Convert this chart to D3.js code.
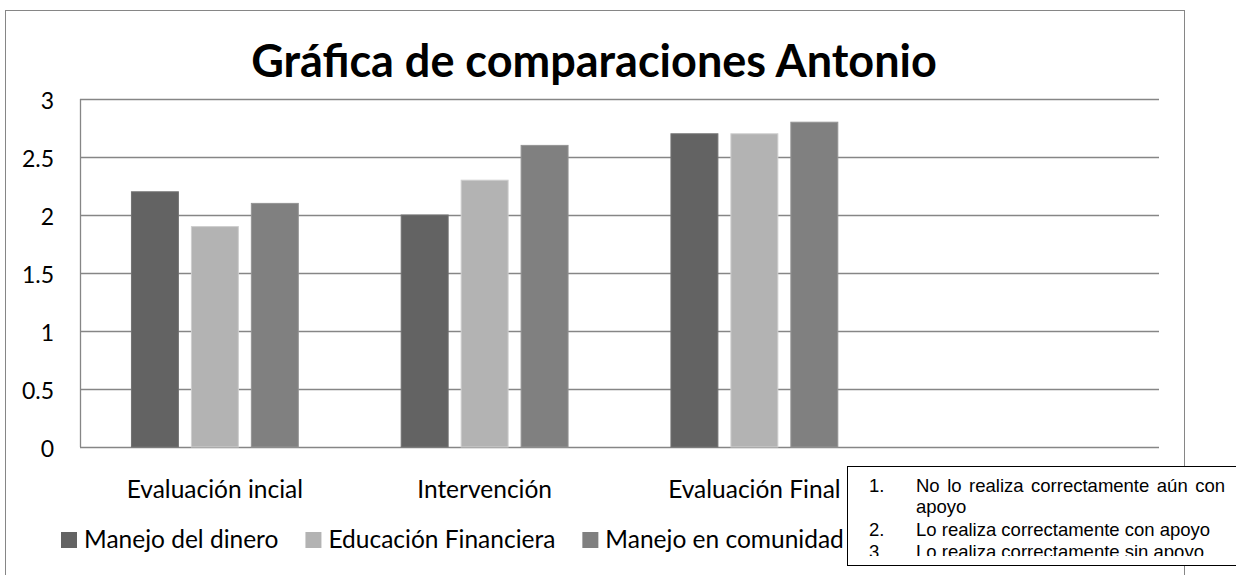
<!DOCTYPE html>
<html>
<head>
<meta charset="utf-8">
<script src="https://cdn.jsdelivr.net/npm/d3@7"></script>
<style>
  body { margin: 0; background: #fff; }
  text { font-family: Lato, "Open Sans", sans-serif; fill: #000; }
  .note text { font-family: "Liberation Sans", Arial, sans-serif; }
</style>
</head>
<body>
<svg id="chart" width="1236" height="575"></svg>
<script>
    //////////// DATA ////////////

    var categories = ["Evaluación incial", "Intervención", "Evaluación Final", ""];
    var seriesNames = ["Manejo del dinero", "Educación Financiera", "Manejo en comunidad"];
    var manejoDinero = [2.2, 2.0, 2.7, null];
    var educacionFinanciera = [1.9, 2.3, 2.7, null];
    var manejoComunidad = [2.1, 2.6, 2.8, null];
    var yTicks = [0, 0.5, 1, 1.5, 2, 2.5, 3];
    var noteNumbers = ["1.", "2.", "3."];
    var noteTexts = ["No lo realiza correctamente aún con apoyo",
                     "Lo realiza correctamente con apoyo",
                     "Lo realiza correctamente sin apoyo"];
    var titleText = "Gráfica de comparaciones Antonio";

    var seriesValues = [manejoDinero, educacionFinanciera, manejoComunidad];
    var colors = ["#636363", "#b3b3b3", "#808080"];
    var gridColor = "#868686";

    //////////// SCALES ////////////

    var svg = d3.select("#chart");
    var plot = { left: 80, right: 1159, top: 99, bottom: 447 };

    var x0 = d3.scaleBand()
        .domain(categories.map(function (d, i) { return i; }))
        .range([plot.left, plot.right]);

    var x1 = d3.scaleBand()
        .domain(seriesNames)
        .range([0, x0.bandwidth()])
        .paddingInner(0.217)
        .paddingOuter(0.858);

    var y = d3.scaleLinear().domain([0, 3]).range([plot.bottom, plot.top]);

    // outer chart border
    svg.append("rect")
        .attr("x", 5.5).attr("y", 10.5)
        .attr("width", 1179).attr("height", 620)
        .attr("fill", "#fff")
        .attr("stroke", gridColor);

    // title
    svg.append("text")
        .attr("x", 594).attr("y", 77)
        .attr("text-anchor", "middle")
        .style("font-weight", "bold")
        .style("font-size", "45px")
        .text(titleText);

    // gridlines
    svg.append("g")
        .selectAll("line")
        .data(yTicks)
        .enter().append("line")
        .attr("x1", plot.left).attr("x2", plot.right)
        .attr("y1", function (d) { return Math.round(y(d)) + 0.5; })
        .attr("y2", function (d) { return Math.round(y(d)) + 0.5; })
        .attr("stroke", gridColor)
        .attr("stroke-width", 1.3);

    // vertical axis line
    svg.append("line")
        .attr("x1", plot.left + 0.5).attr("x2", plot.left + 0.5)
        .attr("y1", plot.top).attr("y2", plot.bottom)
        .attr("stroke", gridColor)
        .attr("stroke-width", 1.3);

    // y tick labels
    svg.append("g")
        .selectAll("text")
        .data(yTicks)
        .enter().append("text")
        .attr("x", 54)
        .attr("y", function (d) { return y(d); })
        .attr("dy", "0.45em")
        .attr("text-anchor", "end")
        .style("font-size", "23px")
        .text(function (d) { return d; });

    // bars
    var groups = svg.append("g")
        .selectAll("g")
        .data(seriesValues)
        .enter().append("g")
        .attr("fill", function (d, i) { return colors[i]; });

    groups.each(function (vals, si) {
        d3.select(this).selectAll("rect")
            .data(vals.map(function (v, ci) { return { v: v, ci: ci }; })
                .filter(function (d) { return d.v !== null; }))
            .enter().append("rect")
            .attr("x", function (d) { return x0(d.ci) + x1(seriesNames[si]); })
            .attr("width", x1.bandwidth())
            .attr("y", function (d) { return y(d.v); })
            .attr("height", function (d) { return y(0) - y(d.v); })
            .attr("stroke", d3.color(colors[si]).brighter(0.4))
            .attr("stroke-width", 1);
    });

    // category labels
    svg.append("g")
        .selectAll("text")
        .data(categories)
        .enter().append("text")
        .attr("x", function (d, i) { return x0(i) + x0.bandwidth() / 2; })
        .attr("y", 498)
        .attr("text-anchor", "middle")
        .style("font-size", "24.5px")
        .text(function (d) { return d; });

    // legend (items laid out one after another)
    var legend = svg.append("g");
    var lx = 61;
    seriesNames.forEach(function (name, i) {
        legend.append("rect")
            .attr("x", lx).attr("y", 532)
            .attr("width", 16).attr("height", 16)
            .attr("fill", colors[i]);
        var t = legend.append("text")
            .attr("x", lx + 23).attr("y", 548)
            .style("font-size", "24.5px")
            .text(name);
        lx += 23 + t.node().getComputedTextLength() + 27;
    });

    //////////// NOTE BOX ////////////

    var note = svg.append("g").attr("class", "note");
    svg.append("defs").append("clipPath").attr("id", "noteClip")
        .append("rect")
        .attr("x", 848).attr("y", 467)
        .attr("width", 400).attr("height", 89);

    note.append("rect")
        .attr("x", 847.5).attr("y", 466.5)
        .attr("width", 400).attr("height", 99)
        .attr("fill", "#fff")
        .attr("stroke", "#000");

    var noteBody = note.append("g").attr("clip-path", "url(#noteClip)");
    var lineBase = [492, 536, 558];
    var noteSize = "18.5px";

    noteTexts.forEach(function (txt, i) {
        noteBody.append("text")
            .attr("x", 869).attr("y", lineBase[i])
            .style("font-size", noteSize)
            .text(noteNumbers[i]);
        if (i === 0) {
            // first item wraps and is justified
            var words = txt.split(" ");
            var first = words.slice(0, -1).join(" ");
            var t1 = noteBody.append("text")
                .attr("x", 916).attr("y", lineBase[i])
                .style("font-size", noteSize)
                .text(first);
            var natural = t1.node().getComputedTextLength();
            var gaps = first.split(" ").length - 1;
            t1.style("word-spacing", Math.max(0, (1225 - 916 - natural) / gaps) + "px");
            noteBody.append("text")
                .attr("x", 916).attr("y", lineBase[i] + 21)
                .style("font-size", noteSize)
                .text(words[words.length - 1]);
        } else {
            noteBody.append("text")
                .attr("x", 916).attr("y", lineBase[i])
                .style("font-size", noteSize)
                .text(txt);
        }
    });
</script>
</body>
</html>
